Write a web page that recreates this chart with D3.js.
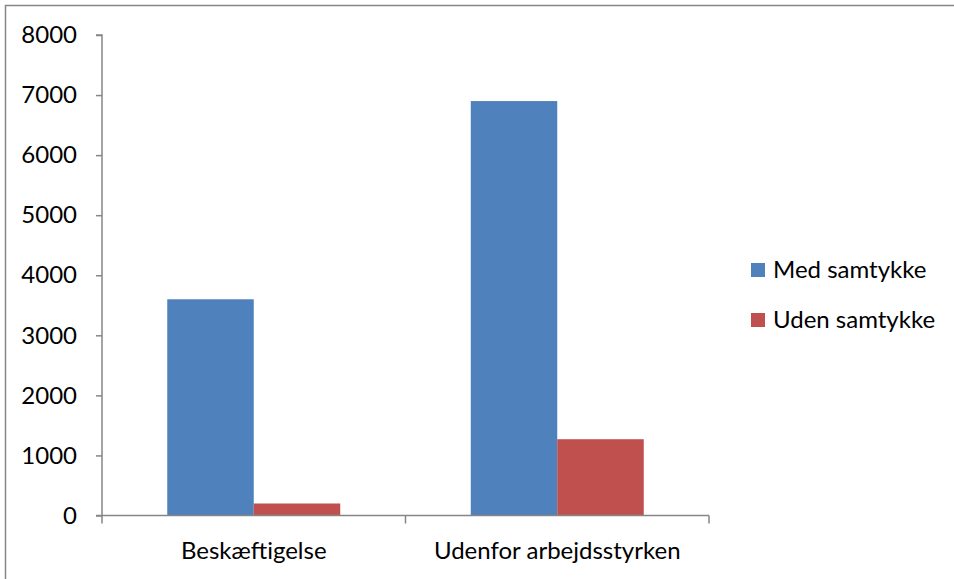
<!DOCTYPE html>
<html><head><meta charset="utf-8">
<script src="https://cdn.jsdelivr.net/npm/d3@7"></script>
<style>body{margin:0;background:#fff}svg{display:block}text{font-family:Lato,"Open Sans",sans-serif;fill:#000}</style>
</head><body><svg id="c" width="954" height="579"></svg>
<script>
const categories = ["Beskæftigelse", "Udenfor arbejdsstyrken"];
const seriesNames = ["Med samtykke", "Uden samtykke"];
const medSamtykke = [3600, 6900];
const udenSamtykke = [200, 1270];
const yTicks = [0, 1000, 2000, 3000, 4000, 5000, 6000, 7000, 8000];
const colors = ["#4F81BD", "#C0504D"];

const svg = d3.select("#c");
svg.append("rect").attr("x",5.5).attr("y",5.5).attr("width",1000).attr("height",1000)
  .attr("fill","none").attr("stroke","#868686").attr("stroke-width",1.5);

const pLeft=102, pRight=709, pTop=35, pBottom=515.5;
const y = d3.scaleLinear().domain([0,8000]).range([pBottom, pTop]);
const x0 = d3.scaleBand().domain(categories).range([pLeft,pRight]).paddingInner(0.43).paddingOuter(0.215);
const x1 = d3.scaleBand().domain(seriesNames).range([0,x0.bandwidth()]);

const data = categories.map((c,i)=>({c, vals:[medSamtykke[i], udenSamtykke[i]]}));
const g = svg.append("g");
data.forEach(d=>{
  d.vals.forEach((v,j)=>{
    g.append("rect").attr("x",x0(d.c)+x1(seriesNames[j])).attr("width",x1.bandwidth())
     .attr("y",y(v)).attr("height",pBottom-y(v)).attr("fill",colors[j]);
  });
});

// y axis
const ya = svg.append("g").attr("transform",`translate(${pLeft},0)`)
  .call(d3.axisLeft(y).tickValues(yTicks).tickSize(6).tickPadding(19).tickFormat(d3.format("d")));
ya.select(".domain").attr("stroke","#868686").attr("stroke-width",1.5).attr("d",`M-6,${pTop}H0V${pBottom}`);
ya.selectAll(".tick line").attr("stroke","#868686").attr("stroke-width",1.5);
ya.selectAll(".tick text").attr("font-size",24).attr("font-family","Lato").attr("fill","#000");

// x axis
const xa = svg.append("g").attr("transform",`translate(0,${pBottom})`);
xa.append("line").attr("x1",pLeft-6).attr("x2",pRight).attr("stroke","#868686").attr("stroke-width",1.5);
const bounds=[pLeft, (pLeft+pRight)/2, pRight];
bounds.forEach(b=>xa.append("line").attr("x1",b).attr("x2",b).attr("y1",0).attr("y2",8).attr("stroke","#868686").attr("stroke-width",1.5));
categories.forEach(c=>{
  xa.append("text").attr("x",x0(c)+x0.bandwidth()/2).attr("y",43).attr("text-anchor","middle")
   .attr("font-size",24).text(c);
});

// legend
const lg = svg.append("g");
seriesNames.forEach((s,i)=>{
  const cy = 270 + i*50;
  lg.append("rect").attr("x",751).attr("y",cy-7).attr("width",14).attr("height",14).attr("fill",colors[i]);
  lg.append("text").attr("x",773).attr("y",cy).attr("dy","0.35em").attr("font-size",24).text(s);
});
</script></body></html>
